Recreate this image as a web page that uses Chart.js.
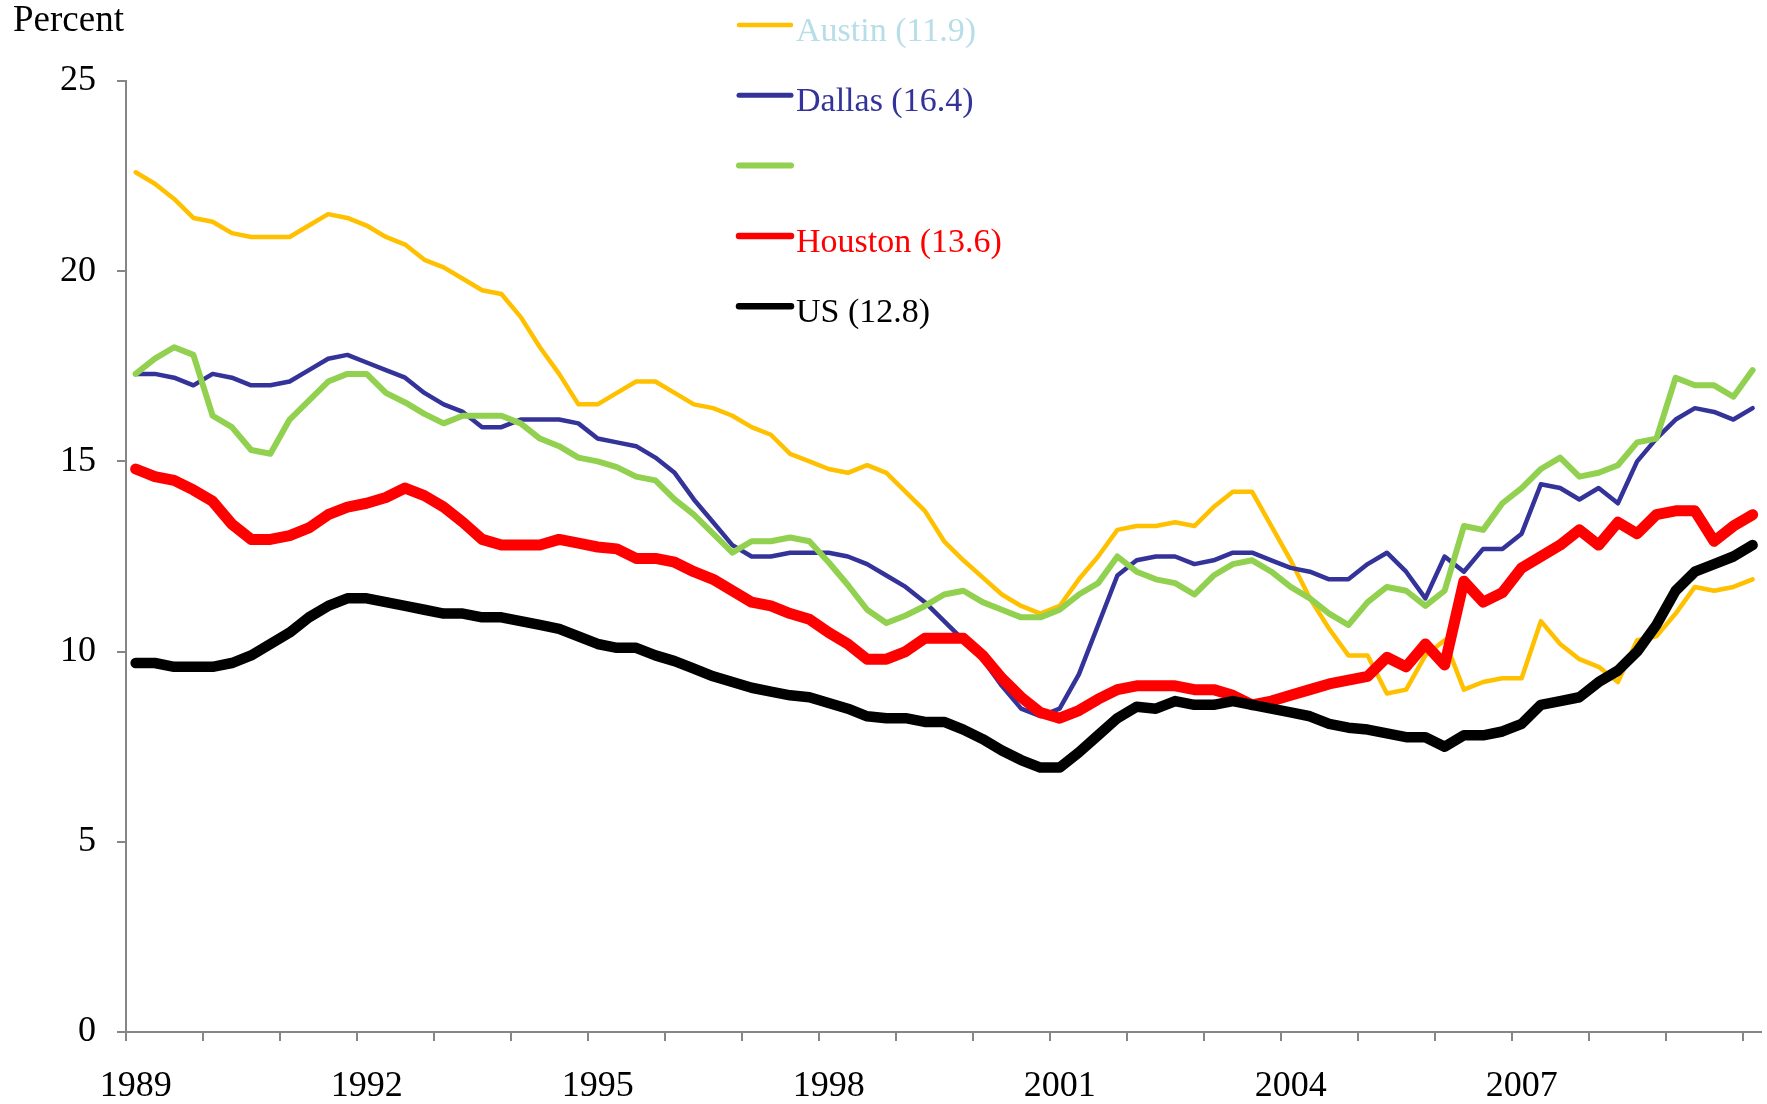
<!DOCTYPE html>
<html>
<head>
<meta charset="utf-8">
<script src="https://cdn.jsdelivr.net/npm/chart.js@4.4.1/dist/chart.umd.min.js"></script>
<style>
  html, body { margin: 0; padding: 0; background: #fff; }
  canvas { display: block; }
</style>
</head>
<body>
<canvas id="chart" width="1767" height="1104"></canvas>
<script>
// Quarterly data, 1989 Q1 through 2010 Q1
const firstYear = 1989;
const yearLabels = ['1989', '1992', '1995', '1998', '2001', '2004', '2007'];
const seriesNames = ['Austin (11.9)', 'Dallas (16.4)', '', 'Houston (13.6)', 'US (12.8)'];

const austin = [
  22.6, 22.3, 21.9, 21.4, 21.3, 21.0, 20.9, 20.9, 20.9, 21.2,
  21.5, 21.4, 21.2, 20.9, 20.7, 20.3, 20.1, 19.8, 19.5, 19.4,
  18.8, 18.0, 17.3, 16.5, 16.5, 16.8, 17.1, 17.1, 16.8, 16.5,
  16.4, 16.2, 15.9, 15.7, 15.2, 15.0, 14.8, 14.7, 14.9, 14.7,
  14.2, 13.7, 12.9, 12.4, 11.95, 11.5, 11.2, 11.0, 11.2, 11.9,
  12.5, 13.2, 13.3, 13.3, 13.4, 13.3, 13.8, 14.2, 14.2, 13.3,
  12.4, 11.4, 10.6, 9.9, 9.9, 8.9, 9.0, 9.9, 10.3, 9.0,
  9.2, 9.3, 9.3, 10.8, 10.2, 9.8, 9.6, 9.2, 10.3, 10.4,
  11.0, 11.7, 11.6, 11.7, 11.9
];
const dallas = [
  17.3, 17.3, 17.2, 17.0, 17.3, 17.2, 17.0, 17.0, 17.1, 17.4,
  17.7, 17.8, 17.6, 17.4, 17.2, 16.8, 16.5, 16.3, 15.9, 15.9,
  16.1, 16.1, 16.1, 16.0, 15.6, 15.5, 15.4, 15.1, 14.7, 14.0,
  13.4, 12.8, 12.5, 12.5, 12.6, 12.6, 12.6, 12.5, 12.3, 12.0,
  11.7, 11.3, 10.8, 10.3, 9.8, 9.1, 8.5, 8.3, 8.5, 9.4,
  10.7, 12.0, 12.4, 12.5, 12.5, 12.3, 12.4, 12.6, 12.6, 12.4,
  12.2, 12.1, 11.9, 11.9, 12.3, 12.6, 12.1, 11.4, 12.5, 12.1,
  12.7, 12.7, 13.1, 14.4, 14.3, 14.0, 14.3, 13.9, 15.0, 15.6,
  16.1, 16.4, 16.3, 16.1, 16.4
];
const unlabeled = [
  17.3, 17.7, 18.0, 17.8, 16.2, 15.9, 15.3, 15.2, 16.1, 16.6,
  17.1, 17.3, 17.3, 16.8, 16.55, 16.25, 16.0, 16.2, 16.2, 16.2,
  16.0, 15.6, 15.4, 15.1, 15.0, 14.85, 14.6, 14.5, 14.0, 13.6,
  13.1, 12.6, 12.9, 12.9, 13.0, 12.9, 12.35, 11.75, 11.1, 10.75,
  10.95, 11.2, 11.5, 11.6, 11.3, 11.1, 10.9, 10.9, 11.1, 11.5,
  11.8, 12.5, 12.1, 11.9, 11.8, 11.5, 12.0, 12.3, 12.4, 12.1,
  11.7, 11.4, 11.0, 10.7, 11.3, 11.7, 11.6, 11.2, 11.6, 13.3,
  13.2, 13.9, 14.3, 14.8, 15.1, 14.6, 14.7, 14.9, 15.5, 15.6,
  17.2, 17.0, 17.0, 16.7, 17.4
];
const houston = [
  14.8, 14.6, 14.5, 14.25, 13.95, 13.35, 12.95, 12.95, 13.05, 13.25,
  13.6, 13.8, 13.9, 14.05, 14.3, 14.1, 13.8, 13.4, 12.95, 12.8,
  12.8, 12.8, 12.95, 12.85, 12.75, 12.7, 12.45, 12.45, 12.35, 12.1,
  11.9, 11.6, 11.3, 11.2, 11.0, 10.85, 10.5, 10.2, 9.8, 9.8,
  10.0, 10.35, 10.35, 10.35, 9.9, 9.3, 8.8, 8.4, 8.25, 8.45,
  8.75, 9.0, 9.1, 9.1, 9.1, 9.0, 9.0, 8.85, 8.6, 8.7,
  8.85, 9.0, 9.15, 9.25, 9.35, 9.85, 9.6, 10.2, 9.65, 11.85,
  11.3, 11.55, 12.2, 12.5, 12.8, 13.2, 12.8, 13.4, 13.1, 13.6,
  13.7, 13.7, 12.9, 13.3, 13.6
];
const us = [
  9.7, 9.7, 9.6, 9.6, 9.6, 9.7, 9.9, 10.2, 10.5, 10.9,
  11.2, 11.4, 11.4, 11.3, 11.2, 11.1, 11.0, 11.0, 10.9, 10.9,
  10.8, 10.7, 10.6, 10.4, 10.2, 10.1, 10.1, 9.9, 9.75, 9.55,
  9.35, 9.2, 9.05, 8.95, 8.85, 8.8, 8.65, 8.5, 8.3, 8.25,
  8.25, 8.15, 8.15, 7.95, 7.7, 7.4, 7.15, 6.95, 6.95, 7.35,
  7.8, 8.25, 8.55, 8.5, 8.7, 8.6, 8.6, 8.7, 8.6, 8.5,
  8.4, 8.3, 8.1, 8.0, 7.95, 7.85, 7.75, 7.75, 7.5, 7.8,
  7.8, 7.9, 8.1, 8.6, 8.7, 8.8, 9.2, 9.5, 10.0, 10.7,
  11.6, 12.1, 12.3, 12.5, 12.8
];

const seriesValues = [austin, dallas, unlabeled, houston, us];
const lineColors = ['#FFC000', '#333399', '#92D050', '#FF0000', '#000000'];
const textColors = ['#B7DEE8', '#333399', '#92D050', '#FF0000', '#000000'];
const lineWidths = [4.5, 4.5, 6, 11, 10.5];
const legendWidths = [4.5, 5, 6, 6.5, 6.5];

// each quarter sits in the middle of its slot on the year axis
const quarterPos = austin.map((v, i) => firstYear + (i + 0.5) / 4);

const FONT = '"Liberation Serif", "Times New Roman", serif';
const AXIS_GREY = '#868686';

// Legend column and "Percent" label
const overlayPlugin = {
  id: 'overlay',
  afterDraw(chart) {
    const ctx = chart.ctx;
    ctx.save();
    ctx.fillStyle = '#000';
    ctx.font = '37px ' + FONT;
    ctx.textBaseline = 'alphabetic';
    ctx.fillText('Percent', 13, 31);

    ctx.font = '34px ' + FONT;
    ctx.lineCap = 'round';
    seriesNames.forEach((name, i) => {
      const y = 25 + i * 70.3;
      ctx.strokeStyle = lineColors[i];
      ctx.lineWidth = legendWidths[i];
      ctx.beginPath();
      ctx.moveTo(739, y);
      ctx.lineTo(791, y);
      ctx.stroke();
      ctx.fillStyle = textColors[i];
      ctx.fillText(name, 796, y + 16);
    });
    ctx.restore();
  }
};

const datasets = seriesValues.map((vals, i) => ({
  label: seriesNames[i],
  data: vals.map((v, j) => ({ x: quarterPos[j], y: v })),
  borderColor: lineColors[i],
  backgroundColor: lineColors[i],
  borderWidth: lineWidths[i],
  borderJoinStyle: 'round',
  borderCapStyle: 'round',
  pointRadius: 0,
  tension: 0,
  fill: false,
  clip: false,
  order: seriesValues.length - i
}));

new Chart(document.getElementById('chart'), {
  type: 'line',
  data: { datasets: datasets },
  options: {
    responsive: false,
    animation: false,
    devicePixelRatio: 1,
    layout: { padding: { top: 81, right: 0, bottom: 0, left: 0 } },
    plugins: {
      legend: { display: false },
      tooltip: { enabled: false },
      title: { display: false }
    },
    scales: {
      x: {
        type: 'linear',
        min: firstYear,
        max: 2010.23,
        afterFit: scale => { scale.height = 72; },
        grid: {
          drawOnChartArea: false,
          drawTicks: true,
          tickLength: 9,
          color: AXIS_GREY,
          lineWidth: 2
        },
        border: { display: true, color: AXIS_GREY, width: 2 },
        ticks: {
          stepSize: 1,
          includeBounds: false,
          autoSkip: false,
          maxTicksLimit: 100,
          maxRotation: 0,
          minRotation: 0,
          labelOffset: 9.7,
          padding: 24,
          color: '#000',
          font: { family: FONT, size: 36 },
          callback: v => yearLabels.includes(String(v)) ? String(v) : ''
        }
      },
      y: {
        min: 0,
        max: 25,
        afterFit: scale => { scale.width = 126; },
        grid: {
          drawOnChartArea: false,
          drawTicks: true,
          tickLength: 9,
          color: AXIS_GREY,
          lineWidth: 2
        },
        border: { display: true, color: AXIS_GREY, width: 2 },
        ticks: {
          stepSize: 5,
          padding: 21,
          color: '#000',
          font: { family: FONT, size: 36 }
        }
      }
    }
  },
  plugins: [overlayPlugin]
});
</script>
</body>
</html>
